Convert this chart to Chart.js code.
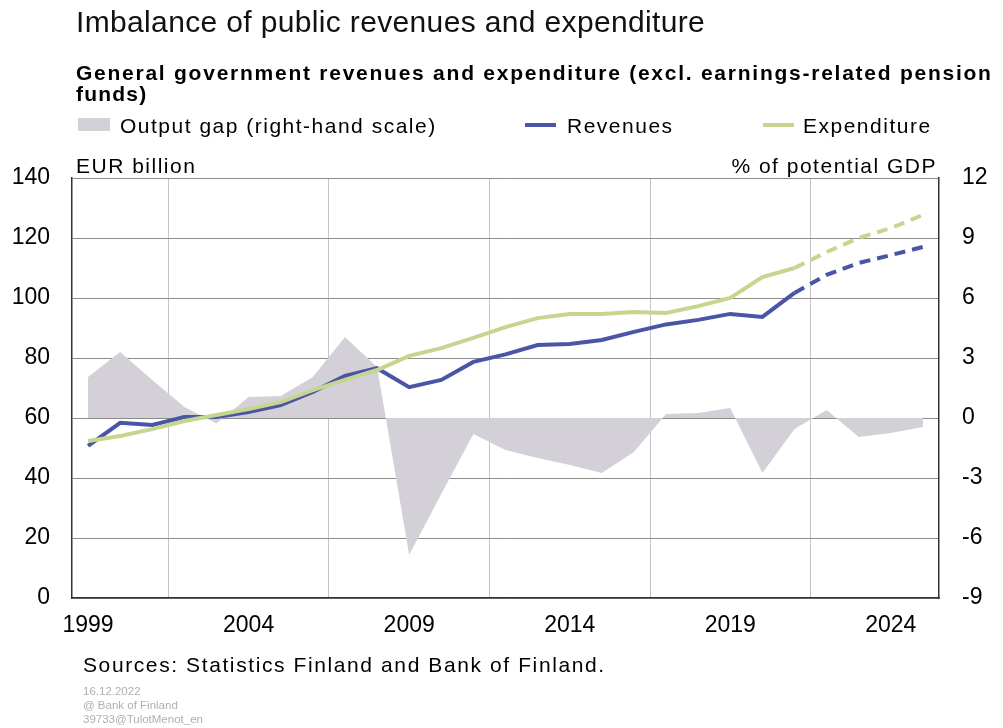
<!DOCTYPE html>
<html>
<head>
<meta charset="utf-8">
<script src="https://cdn.jsdelivr.net/npm/chart.js@4"></script>
<style>
  body { margin: 0; background: #fff; overflow: hidden; font-family: "Liberation Sans", Arial, sans-serif; color: #000; }
  #wrap { position: absolute; left: 0; top: 0; width: 1003px; height: 728px; }
  .txt { position: absolute; white-space: nowrap; line-height: 1; }
  #title { left: 76px; top: 7px; font-size: 30px; letter-spacing: 0.35px; color: #111; }
  #sub1 { left: 76px; top: 62px; font-size: 21px; font-weight: bold; letter-spacing: 1.75px; }
  #sub2 { left: 76px; top: 83px; font-size: 21px; font-weight: bold; letter-spacing: 1.2px; }
  .leg { top: 115px; font-size: 21px; letter-spacing: 1.5px; }
  .box { position: absolute; left: 78px; top: 118px; width: 32px; height: 13px; background: #d4d0d8; }
  .mark { position: absolute; top: 123px; width: 31px; height: 4px; }
  .axt { top: 155px; font-size: 21px; letter-spacing: 1.5px; }
  #src { left: 83px; top: 654px; font-size: 21px; letter-spacing: 1.6px; }
  .foot { left: 83px; font-size: 11.5px; color: #b0b0b0; }
</style>
</head>
<body>
<div id="wrap"><canvas id="myChart"></canvas></div>

<div class="txt" id="title">Imbalance of public revenues and expenditure</div>
<div class="txt" id="sub1">General government revenues and expenditure (excl. earnings-related pension</div>
<div class="txt" id="sub2">funds)</div>

<div class="box"></div>
<div class="txt leg" style="left:120px">Output gap (right-hand scale)</div>
<div class="mark" style="left:525px;background:#4a55a5"></div>
<div class="txt leg" style="left:567px">Revenues</div>
<div class="mark" style="left:763px;background:#c6d68f"></div>
<div class="txt leg" style="left:803px">Expenditure</div>

<div class="txt axt" style="left:76px">EUR billion</div>
<div class="txt axt" style="right:66px">% of potential GDP</div>

<div class="txt" id="src">Sources: Statistics Finland and Bank of Finland.</div>
<div class="txt foot" style="top:686px">16.12.2022</div>
<div class="txt foot" style="top:700px">@ Bank of Finland</div>
<div class="txt foot" style="top:714px">39733@TulotMenot_en</div>

<script>
const years = ["1999","2000","2001","2002","2003","2004","2005","2006","2007","2008",
  "2009","2010","2011","2012","2013","2014","2015","2016","2017","2018",
  "2019","2020","2021","2022","2023","2024","2025"];
// EUR billion
const revenues = [50.7,58.4,57.7,60.3,60.3,62,64.3,68.7,74,76.6,
  70.3,72.7,78.7,81.2,84.3,84.7,86,88.7,91.2,92.7,
  94.7,93.7,101.7,107.7,111.7,114.3,117];
const expenditure = [52.3,54,56.3,59,61,63,65.3,69.3,72.7,76,
  80.7,83.3,86.7,90.3,93.3,94.7,94.7,95.3,95,97.3,
  100,107,110,115.3,120,123.3,127.7];
// % of potential GDP
const outputGap = [2.05,3.3,1.9,0.55,-0.27,1.05,1.1,2.05,4.05,2.55,
  -6.85,-3.8,-0.8,-1.6,-2.0,-2.35,-2.75,-1.7,0.2,0.25,
  0.5,-2.75,-0.55,0.4,-0.95,-0.75,-0.45];
const forecastFrom = 22; // 2021 -> dashed after this point

const fontFam = '"Liberation Sans", Arial, sans-serif';
const dashed = ctx => ctx.p0DataIndex >= forecastFrom ? [11, 7] : undefined;

function grafico(){
  const ctx = document.getElementById("myChart");
  new Chart(ctx, {
    data: {
      labels: years,
      datasets: [
        {
          type: "line",
          label: "Output gap (right-hand scale)",
          data: outputGap,
          yAxisID: "y1",
          fill: "origin",
          backgroundColor: "#d4d0d8",
          borderWidth: 0,
          pointRadius: 0,
          tension: 0,
          order: 3,
        },
        {
          type: "line",
          label: "Revenues",
          data: revenues,
          yAxisID: "y",
          borderColor: "#4a55a5",
          borderWidth: 4,
          pointRadius: 0,
          tension: 0,
          fill: false,
          segment: { borderDash: dashed },
          order: 2,
        },
        {
          type: "line",
          label: "Expenditure",
          data: expenditure,
          yAxisID: "y",
          borderColor: "#c6d68f",
          borderWidth: 4,
          pointRadius: 0,
          tension: 0,
          fill: false,
          segment: { borderDash: dashed },
          order: 1,
        },
      ],
    },
    options: {
      responsive: true,
      maintainAspectRatio: false,
      animation: false,
      layout: { padding: { top: 178, left: 0, right: 0, bottom: 0 } },
      plugins: { legend: { display: false }, tooltip: { enabled: false } },
      scales: {
        x: {
          type: "category",
          offset: true,
          grid: { offset: true, color: "#c4c4c4", drawTicks: false },
          border: { color: "#333", width: 1.5 },
          ticks: {
            autoSkip: false, maxRotation: 0, padding: 14, color: "#000",
            font: { family: fontFam, size: 23 },
            callback: (v, i) => i % 5 === 0 ? years[i] : null,
          },
          afterFit: s => { s.height = 130; },
        },
        y: {
          position: "left",
          min: 0, max: 140,
          grid: { color: "#8c8c8c", drawTicks: false },
          border: { color: "#333", width: 1.5 },
          ticks: { stepSize: 20, padding: 22, color: "#000", font: { family: fontFam, size: 23 } },
          afterFit: s => { s.width = 72; },
        },
        y1: {
          position: "right",
          min: -9, max: 12,
          grid: { drawOnChartArea: false, drawTicks: false },
          border: { color: "#333", width: 1.5 },
          ticks: { stepSize: 3, padding: 23, color: "#000", font: { family: fontFam, size: 23 } },
          afterFit: s => { s.width = 64; },
        },
      },
    },
  });
}
grafico()
</script>
</body>
</html>
